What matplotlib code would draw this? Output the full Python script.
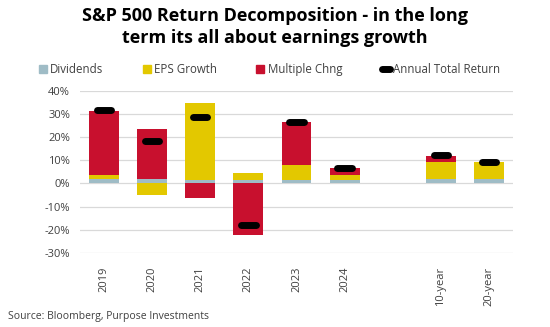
import matplotlib
matplotlib.use("Agg")
import matplotlib.pyplot as plt
from matplotlib.lines import Line2D
from matplotlib.patches import Patch
import numpy as np

# --- Return components (in %), one slot left empty before the long-run averages
periods = ["2019", "2020", "2021", "2022", "2023", "2024", "", "10-year", "20-year"]
dividends = [1.8, 1.8, 1.4, 1.7, 1.5, 1.3, np.nan, 1.9, 1.9]
eps_growth = [2.0, -5.0, 33.4, 2.6, 6.3, 2.3, np.nan, 7.3, 7.3]
multiple_chng = [27.6, 21.8, -6.1, -22.4, 18.5, 3.1, np.nan, 2.7, 0.0]
total_return = [31.5, 18.4, 28.7, -18.1, 26.5, 6.5, np.nan, 12.2, 9.1]

c_div = "#9fbcc6"
c_eps = "#e3c800"
c_mult = "#c8102e"

plt.rcParams["font.family"] = ["Open Sans", "DejaVu Sans"]
plt.rcParams["axes.unicode_minus"] = False

fig = plt.figure(figsize=(5.5, 3.27), dpi=100)
ax = fig.add_axes([0.145, 0.226, 0.788, 0.497])

x = np.arange(len(periods))
width = 0.62

# Excel-style stacking: positives build up from 0, negatives build down from 0
pos_base = np.zeros(len(x))
neg_base = np.zeros(len(x))
for vals, col in [(dividends, c_div), (eps_growth, c_eps), (multiple_chng, c_mult)]:
    v = np.nan_to_num(np.array(vals, dtype=float))
    bottom = np.where(v >= 0, pos_base, neg_base)
    ax.bar(x, v / 100, width, bottom=bottom / 100, color=col, zorder=2)
    pos_base = pos_base + np.where(v > 0, v, 0)
    neg_base = neg_base + np.where(v < 0, v, 0)

tr = np.array(total_return, dtype=float)
ok = ~np.isnan(tr)
marks = ax.hlines(tr[ok] / 100, x[ok] - 0.15, x[ok] + 0.15, color="black",
                  lw=5, zorder=3)
marks.set_capstyle("round")

ax.set_xlim(-0.5, 8.5)
ax.set_ylim(-0.30, 0.40)
ax.set_yticks(np.arange(-0.30, 0.41, 0.10))
ax.yaxis.set_major_formatter(matplotlib.ticker.PercentFormatter(1.0, decimals=0))
ax.grid(axis="y", color="#d9d9d9", lw=0.9, zorder=0)
ax.set_xticks(x)
ax.set_xticklabels(periods, rotation=90)
ax.tick_params(length=0, labelsize=8, colors="#404040", pad=7)
ax.tick_params(axis="x", pad=10)
for s in ax.spines.values():
    s.set_visible(False)

fig.suptitle("S&P 500 Return Decomposition - in the long\nterm its all about earnings growth",
             x=0.5, y=0.978, fontsize=13, fontweight="bold", linespacing=1.25)

handles = [
    Patch(color=c_div, label="Dividends"),
    Patch(color=c_eps, label="EPS Growth"),
    Patch(color=c_mult, label="Multiple Chng"),
    Line2D([0], [0], color="black", lw=5, solid_capstyle="round", label="Annual Total Return"),
]
fig.legend(handles=handles, loc="center", bbox_to_anchor=(0.49, 0.788), ncol=4,
           frameon=False, fontsize=8.3, handlelength=0.7, handleheight=0.7,
           handletextpad=0.3, columnspacing=3.4, labelcolor="#404040")

fig.text(0.015, 0.025, "Source: Bloomberg, Purpose Investments", fontsize=7.5, color="#404040")

fig.savefig("out.png", dpi=100)
